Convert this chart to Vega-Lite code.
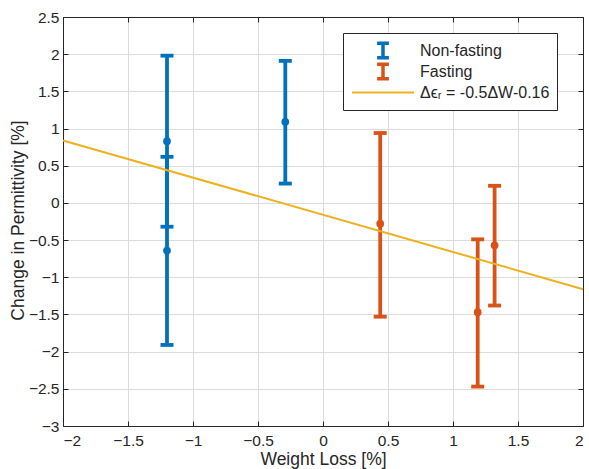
{
  "$schema": "https://vega.github.io/schema/vega-lite/v6.json",
  "autosize": "none",
  "padding": {"left": 63, "top": 17, "right": 6, "bottom": 43},
  "width": 520,
  "height": 409,
  "background": "white",
  "config": {
    "view": {"stroke": "#262626", "strokeWidth": 1},
    "font": "Liberation Sans",
    "axis": {
      "labelFont": "Liberation Sans",
      "labelFontSize": 15.5,
      "labelColor": "#262626",
      "titleFont": "Liberation Sans",
      "titleFontSize": 17.5,
      "titleFontWeight": "normal",
      "titleColor": "#262626",
      "domainColor": "#262626",
      "domainWidth": 1,
      "tickColor": "#262626",
      "tickWidth": 1,
      "tickSize": -5,
      "gridColor": "#dcdcdc",
      "gridWidth": 1
    },
    "legend": {
      "labelFont": "Liberation Sans",
      "labelFontSize": 16,
      "labelColor": "#262626",
      "symbolSize": 3844
    }
  },
  "resolve": {"axis": {"x": "independent", "y": "independent"}},
  "datasets": {
    "bars": [
      {"x": -1.2, "y": 0.83, "lo": -0.32, "hi": 1.98, "g": "Non-fasting"},
      {"x": -1.2, "y": -0.64, "lo": -1.91, "hi": 0.62, "g": "Non-fasting"},
      {"x": -0.29, "y": 1.09, "lo": 0.26, "hi": 1.91, "g": "Non-fasting"},
      {"x": 0.44, "y": -0.28, "lo": -1.53, "hi": 0.94, "g": "Fasting"},
      {"x": 1.19, "y": -1.47, "lo": -2.47, "hi": -0.49, "g": "Fasting"},
      {"x": 1.32, "y": -0.57, "lo": -1.38, "hi": 0.23, "g": "Fasting"}
    ],
    "fit": [
      {"x": -2, "y": 0.84, "g": "fit"},
      {"x": 2, "y": -1.16, "g": "fit"}
    ]
  },
  "layer": [
    {
      "data": {"name": "bars"},
      "mark": {"type": "rule", "strokeWidth": 3.8},
      "encoding": {
        "x": {
          "field": "x", "type": "quantitative",
          "scale": {"domain": [-2, 2], "nice": false, "zero": false},
          "axis": {
            "orient": "bottom",
            "values": [-2, -1.5, -1, -0.5, 0, 0.5, 1, 1.5, 2],
            "format": "~g",
            "grid": true,
            "labelPadding": 12,
            "title": "Weight Loss [%]",
            "titleX": 260,
            "titleY": 38,
            "titleBaseline": "alphabetic"
          }
        },
        "y": {
          "field": "lo", "type": "quantitative",
          "scale": {"domain": [-3, 2.5], "nice": false, "zero": false},
          "axis": {
            "orient": "left",
            "values": [-3, -2.5, -2, -1.5, -1, -0.5, 0, 0.5, 1, 1.5, 2, 2.5],
            "format": "~g",
            "grid": true,
            "labelPadding": 9,
            "title": "Change in Permittivity [%]",
            "titleX": -40,
            "titleY": 203,
            "titleAngle": -90,
            "titleBaseline": "alphabetic"
          }
        },
        "y2": {"field": "hi"},
        "color": {
          "field": "g", "type": "nominal",
          "scale": {"domain": ["Non-fasting", "Fasting", "fit"], "range": ["#0072BD", "#D95319", "#EDB120"]},
          "legend": {
            "title": null,
            "orient": "none",
            "legendX": 280,
            "legendY": 16,
            "strokeColor": "#262626",
            "fillColor": "white",
            "padding": 7,
            "symbolSize": 3844,
            "clipHeight": 21,
            "rowPadding": 0,
            "labelOffset": 4,
            "labelFontSize": 16,
            "symbolStrokeWidth": 2.5,
            "labelExpr": "datum.label == 'fit' ? 'Δϵᵣ = -0.5ΔW-0.16' : datum.label",
            "encode": {
              "symbols": {
                "update": {
                  "shape": {"signal": "((datum.value == 'fit') ? 'stroke' : 'M-0.19,-0.23H0.19M0,-0.23V0.23M-0.19,0.23H0.19')"},
                  "strokeWidth": {"signal": "((datum.value == 'fit') ? 2 : 3.5)"}
                }
              }
            }
          }
        }
      }
    },
    {
      "data": {"name": "bars"},
      "mark": {"type": "tick", "orient": "horizontal", "size": 13, "thickness": 3.8, "opacity": 1},
      "encoding": {
        "x": {"field": "x", "type": "quantitative", "axis": null},
        "y": {"field": "lo", "type": "quantitative", "axis": null},
        "fill": {"field": "g", "type": "nominal", "scale": {"domain": ["Non-fasting", "Fasting"], "range": ["#0072BD", "#D95319"]}, "legend": null}
      }
    },
    {
      "data": {"name": "bars"},
      "mark": {"type": "tick", "orient": "horizontal", "size": 13, "thickness": 3.8, "opacity": 1},
      "encoding": {
        "x": {"field": "x", "type": "quantitative", "axis": null},
        "y": {"field": "hi", "type": "quantitative", "axis": null},
        "fill": {"field": "g", "type": "nominal", "scale": {"domain": ["Non-fasting", "Fasting"], "range": ["#0072BD", "#D95319"]}, "legend": null}
      }
    },
    {
      "data": {"name": "bars"},
      "mark": {"type": "point", "shape": "circle", "filled": true, "size": 60, "opacity": 1},
      "encoding": {
        "x": {"field": "x", "type": "quantitative", "axis": null},
        "y": {"field": "y", "type": "quantitative", "axis": null},
        "fill": {"field": "g", "type": "nominal", "scale": {"domain": ["Non-fasting", "Fasting"], "range": ["#0072BD", "#D95319"]}, "legend": null}
      }
    },
    {
      "data": {"name": "fit"},
      "mark": {"type": "line", "strokeWidth": 2},
      "encoding": {
        "x": {
          "field": "x", "type": "quantitative",
          "axis": {"orient": "top", "values": [-2, -1.5, -1, -0.5, 0, 0.5, 1, 1.5, 2], "labels": false, "grid": false, "title": null}
        },
        "y": {
          "field": "y", "type": "quantitative",
          "axis": {"orient": "right", "values": [-3, -2.5, -2, -1.5, -1, -0.5, 0, 0.5, 1, 1.5, 2, 2.5], "labels": false, "grid": false, "title": null}
        },
        "color": {"field": "g", "type": "nominal"}
      }
    }
  ]
}
